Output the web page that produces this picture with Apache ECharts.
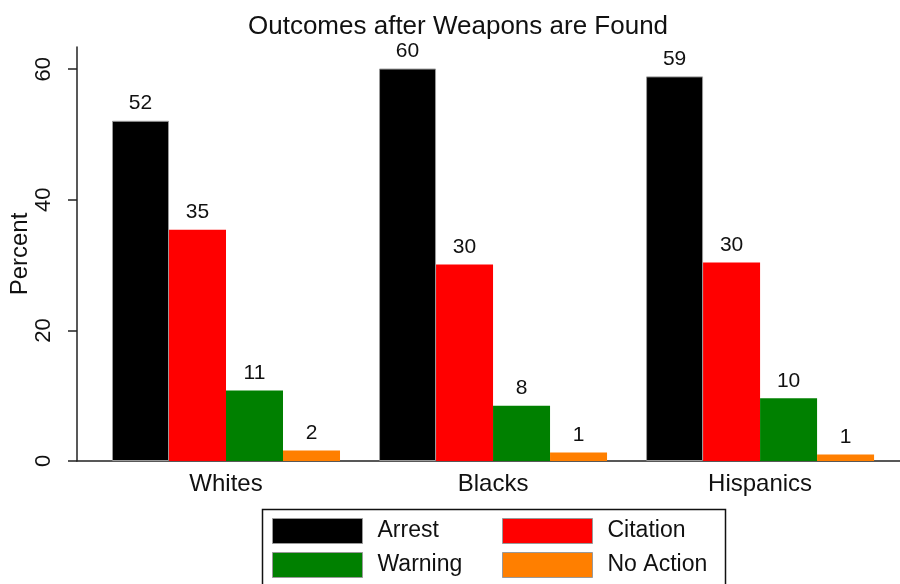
<!DOCTYPE html>
<html>
<head>
<meta charset="utf-8">
<script src="https://cdn.jsdelivr.net/npm/echarts@6/dist/echarts.min.js"></script>
<style>html,body{margin:0;padding:0;background:#fff}#c{width:900px;height:584px}</style>
</head>
<body>
<div id="c"></div>
<script>
const categories = ['Whites', 'Blacks', 'Hispanics'];
const categoryPositions = [1, 2, 3];
const seriesNames = ['Arrest', 'Citation', 'Warning', 'No Action'];
const arrest = [52.1, 60.1, 58.9];
const citation = [35.4, 30.1, 30.4];
const warning = [10.8, 8.45, 9.6];
const noAction = [1.6, 1.3, 1.0];
const yTicks = [0, 20, 40, 60];
const colors = ['#000000', '#ff0000', '#008000', '#ff7f00'];

const FONT = 'Liberation Sans, Arial, sans-serif';
const allValues = [arrest, citation, warning, noAction];

const legendCommon = {
  orient: 'vertical',
  top: 518,
  padding: 0,
  itemGap: 8,
  itemWidth: 90, itemHeight: 25,
  icon: 'rect',
  itemStyle: {borderColor: '#999', borderWidth: 1},
  formatter: '{s| }{a|{name}}',
  textStyle: {
    fontFamily: FONT, fontSize: 23, color: '#111',
    rich: {
      s: {width: 10, fontSize: 23},
      a: {fontFamily: FONT, fontSize: 23, color: '#111'}
    }
  }
};

const chart = echarts.init(document.getElementById('c'), null, {renderer: 'canvas'});
chart.setOption({
  animation: false,
  backgroundColor: '#fff',
  title: {
    text: 'Outcomes after Weapons are Found',
    left: 243, top: 9,
    textStyle: {fontFamily: FONT, fontSize: 26, fontWeight: 'normal', color: '#111'}
  },
  legend: [
    Object.assign({}, legendCommon, {left: 272, data: [seriesNames[0], seriesNames[2]]}),
    Object.assign({}, legendCommon, {left: 502, data: [seriesNames[1], seriesNames[3]]})
  ],
  graphic: [{
    type: 'rect',
    left: 260, top: 507,
    shape: {width: 463, height: 100},
    style: {fill: 'none', stroke: '#111', lineWidth: 1.5},
    silent: true
  }],
  grid: {left: 77, right: 0, top: 47, bottom: 123, outerBoundsMode: 'none', containLabel: false},
  xAxis: {
    type: 'value',
    min: 0.442, max: 3.524,
    splitLine: {show: false},
    axisLine: {show: true, lineStyle: {color: '#222', width: 1.5}},
    axisTick: {show: false},
    axisLabel: {
      customValues: categoryPositions,
      fontFamily: FONT, fontSize: 24, color: '#111', margin: 11,
      formatter: v => categories[categoryPositions.indexOf(v)] || ''
    }
  },
  yAxis: {
    type: 'value',
    min: 0, max: 63.4,
    name: 'Percent',
    nameLocation: 'middle',
    nameGap: 45,
    nameMoveOverlap: false,
    nameRotate: 90,
    nameTextStyle: {fontFamily: FONT, fontSize: 24, color: '#111'},
    splitLine: {show: false},
    axisLine: {show: true, lineStyle: {color: '#222', width: 1.5}},
    axisTick: {show: true, length: 9, customValues: yTicks, lineStyle: {color: '#222', width: 1.5}},
    axisLabel: {customValues: yTicks, rotate: 90, fontFamily: FONT, fontSize: 22, color: '#111', margin: 22}
  },
  series: seriesNames.map((name, i) => ({
    name: name,
    type: 'bar',
    barWidth: 57,
    barGap: '0%',
    itemStyle: {color: colors[i], borderColor: i === 0 ? '#999' : colors[i], borderWidth: i === 0 ? 1 : 0},
    label: {
      show: true, position: 'top', distance: 7,
      fontFamily: FONT, fontSize: 21, color: '#111',
      formatter: p => Math.round(p.value[1])
    },
    data: categoryPositions.map((x, j) => [x, allValues[i][j]])
  }))
});
</script>
</body>
</html>
